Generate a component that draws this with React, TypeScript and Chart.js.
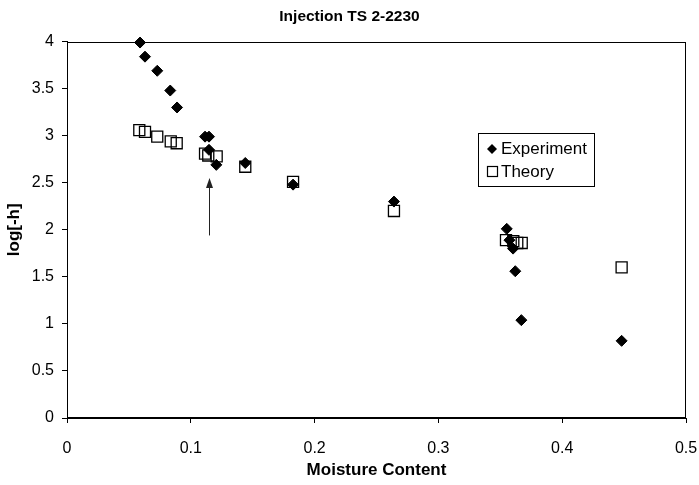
import React, { useEffect, useRef } from "react";
import { Chart, registerables } from "chart.js";

Chart.register(...registerables);

const chartTitle = "Injection TS 2-2230";
const xAxisTitle = "Moisture Content";
const yAxisTitle = "log[-h]";
const seriesNames = ["Experiment", "Theory"];

const xTickLabels = ["0", "0.1", "0.2", "0.3", "0.4", "0.5"];
const yTickLabels = ["0", "0.5", "1", "1.5", "2", "2.5", "3", "3.5", "4"];

const experimentX = [0.059, 0.063, 0.0729, 0.0834, 0.0889, 0.1115, 0.1147, 0.1147, 0.1206, 0.144, 0.1826, 0.2641, 0.3552, 0.3574, 0.3603, 0.3621, 0.367, 0.448];
const experimentY = [3.99, 3.84, 3.69, 3.48, 3.3, 2.99, 2.99, 2.85, 2.69, 2.71, 2.48, 2.3, 2.01, 1.89, 1.8, 1.56, 1.04, 0.82];

const theoryX = [0.0584, 0.063, 0.0729, 0.0838, 0.0886, 0.1115, 0.1141, 0.1209, 0.144, 0.1826, 0.2641, 0.3546, 0.3605, 0.3637, 0.3673, 0.448];
const theoryY = [3.06, 3.04, 2.99, 2.94, 2.92, 2.81, 2.79, 2.78, 2.67, 2.51, 2.2, 1.89, 1.88, 1.86, 1.86, 1.6];

const arrowX = [0.1147, 0.1147];
const arrowY = [1.94, 2.55];

const FONT = '"Liberation Sans", Arial, sans-serif';

const framePlugin = {
  id: "frame",
  beforeDatasetsDraw(chart: any) {
    const { ctx, chartArea } = chart;
    ctx.save();
    ctx.strokeStyle = "#000";
    ctx.lineWidth = 1;
    ctx.strokeRect(
      Math.round(chartArea.left) + 0.5,
      Math.round(chartArea.top) + 0.5,
      Math.round(chartArea.right - chartArea.left) - 1,
      Math.round(chartArea.bottom - chartArea.top) - 1
    );
    ctx.restore();
  },
};

const arrowPlugin = {
  id: "arrow",
  afterDatasetsDraw(chart: any) {
    const { ctx, scales } = chart;
    const x = Math.round(scales.x.getPixelForValue(arrowX[0])) + 0.5;
    const y0 = scales.y.getPixelForValue(arrowY[0]);
    const y1 = scales.y.getPixelForValue(arrowY[1]);
    ctx.save();
    ctx.strokeStyle = "#222";
    ctx.fillStyle = "#222";
    ctx.lineWidth = 1;
    ctx.beginPath();
    ctx.moveTo(x, y0);
    ctx.lineTo(x, y1 + 8);
    ctx.stroke();
    ctx.beginPath();
    ctx.moveTo(x, y1);
    ctx.lineTo(x - 3.5, y1 + 10);
    ctx.lineTo(x + 3.5, y1 + 10);
    ctx.closePath();
    ctx.fill();
    ctx.restore();
  },
};

const legendBoxPlugin = {
  id: "legendBox",
  afterDraw(chart: any) {
    const { ctx } = chart;
    const left = 478.5;
    const top = 133.5;
    const w = 116;
    const h = 53;
    ctx.save();
    ctx.fillStyle = "#fff";
    ctx.fillRect(left, top, w, h);
    ctx.strokeStyle = "#000";
    ctx.lineWidth = 1;
    ctx.strokeRect(left, top, w, h);
    const dx = 492;
    const dy = 149;
    ctx.fillStyle = "#000";
    ctx.beginPath();
    ctx.moveTo(dx, dy - 5);
    ctx.lineTo(dx + 5, dy);
    ctx.lineTo(dx, dy + 5);
    ctx.lineTo(dx - 5, dy);
    ctx.closePath();
    ctx.fill();
    ctx.strokeStyle = "#000";
    ctx.lineWidth = 1.2;
    ctx.strokeRect(487.5, 166.5, 10, 10);
    ctx.fillStyle = "#000";
    ctx.font = `17px ${FONT}`;
    ctx.textBaseline = "middle";
    ctx.textAlign = "left";
    ctx.fillText(seriesNames[0], 501, 149);
    ctx.fillText(seriesNames[1], 501, 172);
    ctx.restore();
  },
};

export default function App() {
  const canvasRef = useRef<HTMLCanvasElement | null>(null);

  useEffect(() => {
    if (!canvasRef.current) return;
    const chart = new Chart(canvasRef.current, {
      type: "scatter",
      data: {
        datasets: [
          {
            label: seriesNames[0],
            data: experimentX.map((x, i) => ({ x, y: experimentY[i] })),
            pointStyle: "rectRot",
            pointRadius: 5.5,
            pointBorderWidth: 1,
            backgroundColor: "#000",
            borderColor: "#000",
            clip: false,
          } as any,
          {
            label: seriesNames[1],
            data: theoryX.map((x, i) => ({ x, y: theoryY[i] })),
            pointStyle: "rect",
            pointRadius: 7.8,
            pointBorderWidth: 1.3,
            backgroundColor: "rgba(0,0,0,0)",
            borderColor: "#000",
            clip: false,
          } as any,
        ],
      },
      options: {
        responsive: false,
        animation: false,
        events: [],
        layout: { padding: { left: 0, right: 0, top: 0, bottom: 0 } },
        plugins: {
          legend: { display: false },
          tooltip: { enabled: false },
          title: {
            display: true,
            text: chartTitle,
            color: "#000",
            font: { family: FONT, size: 15.5, weight: "bold" },
            padding: { top: 7, bottom: 16 },
          },
        },
        scales: {
          x: {
            type: "linear",
            min: 0,
            max: 0.5,
            ticks: {
              stepSize: 0.1,
              color: "#000",
              font: { family: FONT, size: 16 },
              padding: 16,
              maxRotation: 0,
              callback: (_v: any, i: number) => xTickLabels[i],
            },
            grid: {
              display: true,
              drawOnChartArea: false,
              drawTicks: true,
              tickLength: 5,
              color: "#000",
            },
            border: { display: true, color: "#000", width: 1 },
            title: {
              display: true,
              text: xAxisTitle,
              color: "#000",
              font: { family: FONT, size: 17, weight: "bold" },
              padding: { top: 0, bottom: 4 },
            },
            afterFit: (s: any) => {
              s.height = 67;
              s.paddingLeft = 0;
              s.paddingRight = 13;
            },
          },
          y: {
            type: "linear",
            min: 0,
            max: 4,
            ticks: {
              stepSize: 0.5,
              color: "#000",
              font: { family: FONT, size: 16 },
              padding: 8,
              callback: (_v: any, i: number) => yTickLabels[i],
            },
            grid: {
              display: true,
              drawOnChartArea: false,
              drawTicks: true,
              tickLength: 5,
              color: "#000",
            },
            border: { display: true, color: "#000", width: 1 },
            title: {
              display: true,
              text: yAxisTitle,
              color: "#000",
              font: { family: FONT, size: 17, weight: "bold" },
              padding: { top: 4, bottom: 0 },
            },
            afterFit: (s: any) => {
              s.width = 67;
              s.paddingTop = 0;
              s.paddingBottom = 0;
            },
          },
        },
      } as any,
      plugins: [framePlugin, arrowPlugin, legendBoxPlugin],
    });
    return () => chart.destroy();
  }, []);

  return (
    <div style={{ position: "absolute", left: 0, top: 0, width: 699, height: 485, background: "#fff" }}>
      <canvas ref={canvasRef} width={699} height={485} style={{ display: "block" }} />
    </div>
  );
}
